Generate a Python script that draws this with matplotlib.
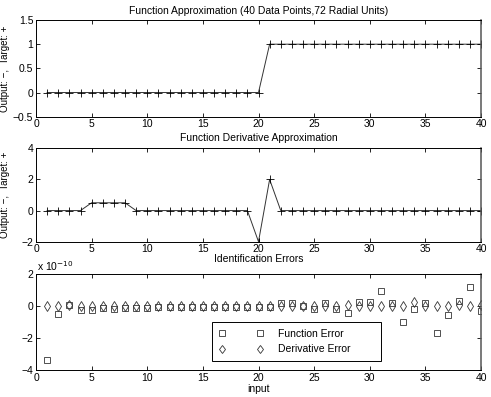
import numpy as np
import matplotlib
matplotlib.use("Agg")
import matplotlib.pyplot as plt

plt.rcParams['font.family'] = ['Liberation Sans', 'DejaVu Sans']
plt.rcParams['font.size'] = 7.5

x = list(range(1, 41))
func_target = [0]*20 + [1]*20
func_output = [0]*20 + [1]*20
deriv_target = [0, 0, 0, 0, 0.5, 0.5, 0.5, 0.5] + [0]*11 + [-2, 2] + [0]*19
deriv_output = deriv_target[:]

# errors in units of 1e-10
func_err = [-3.4, -0.52, 0.05, -0.25, -0.25, -0.1, -0.15, -0.1, -0.1, -0.1,
            -0.08, -0.05, -0.05, -0.05, -0.05, -0.05, -0.02, -0.05, -0.05, -0.03,
            -0.02, 0.2, 0.2, 0.0, -0.2, 0.2, -0.15, -0.42, 0.25, 0.25,
            0.98, 0.2, -1.0, -0.2, 0.2, -1.71, -0.58, 0.35, 1.19, -0.31]
deriv_err = [0.0]*2 + [0.05] + [0.0]*24 + [0.1] + [0.0]*5 + [0.25] + [0.0]*3 + [0.1, 0.0, 0.05]

fig = plt.figure(figsize=(4.91, 3.97), dpi=100)
L, W = 36/491, 445/491
ax1 = fig.add_axes([L, 1-116.7/397, W, 96.7/397])
ax2 = fig.add_axes([L, 1-241.7/397, W, 93.4/397])
ax3 = fig.add_axes([L, 1-370/397, W, 95.7/397])

def style(ax):
    ax.tick_params(direction='in', top=True, right=True, length=3, width=0.6,
                   labelsize=7.5, pad=2)
    for s in ax.spines.values():
        s.set_linewidth(0.7)
    ax.spines['right'].set_linewidth(1.1)
    ax.spines['right'].set_color('#555555')
    ax.set_xlim(0, 40)
    ax.set_xticks(range(0, 41, 5))

ax1.plot(x, func_output, '-', color='#333333', lw=0.7)
ax1.plot(x, func_target, '+', color='black', ms=6, mew=0.6)
style(ax1)
ax1.set_ylim(-0.5, 1.5)
ax1.set_yticks([-0.5, 0, 0.5, 1, 1.5])
ax1.set_yticklabels(['\u22120.5', '0', '0.5', '1', '1.5'])
ax1.set_title('Function Approximation (40 Data Points,72 Radial Units)', fontsize=7.5, pad=4)
ax1.set_ylabel('Output: \u2212,  Target: +', fontsize=7)
ax1.yaxis.set_label_coords(-0.059, 0.5)

ax2.plot(x, deriv_output, '-', color='#333333', lw=0.7)
ax2.plot(x, deriv_target, '+', color='black', ms=6, mew=0.6)
style(ax2)
ax2.set_ylim(-2, 4)
ax2.set_yticks([-2, 0, 2, 4])
ax2.set_yticklabels(['\u22122', '0', '2', '4'])
ax2.set_title('Function Derivative Approximation', fontsize=7.5, pad=5)
ax2.set_ylabel('Output: \u2212,  Target: +', fontsize=7)
ax2.yaxis.set_label_coords(-0.059, 0.5)

ax3.plot(x, func_err, 's', mfc='none', mec='#333333', ms=4.5, mew=0.6, label='Function Error')
ax3.plot(x, deriv_err, 'd', mfc='none', mec='#333333', ms=5, mew=0.6,
         label='Derivative Error' + '\u2007'*4)
style(ax3)
ax3.set_ylim(-4, 2)
ax3.set_yticks([-4, -2, 0, 2])
ax3.set_yticklabels(['\u22124', '\u22122', '0', '2'])
ax3.set_title('Identification Errors', fontsize=7.5, pad=9)
ax3.set_xlabel('input', fontsize=7.5, labelpad=1)
ax3.text(0.003, 1.015, r'x 10$^{-10}$', transform=ax3.transAxes, fontsize=7.5,
         ha='left', va='bottom')
leg = ax3.legend(loc='upper left', bbox_to_anchor=((211.7-36)/445, (370-321.7)/95.7),
                 numpoints=2, handlelength=4.2, handletextpad=1.5, fontsize=7.5,
                 fancybox=False, framealpha=1, edgecolor='black', borderpad=0.7,
                 labelspacing=0.5, borderaxespad=0, markerscale=0.9)
leg.get_frame().set_linewidth(0.7)

fig.savefig('out.png', dpi=100)
